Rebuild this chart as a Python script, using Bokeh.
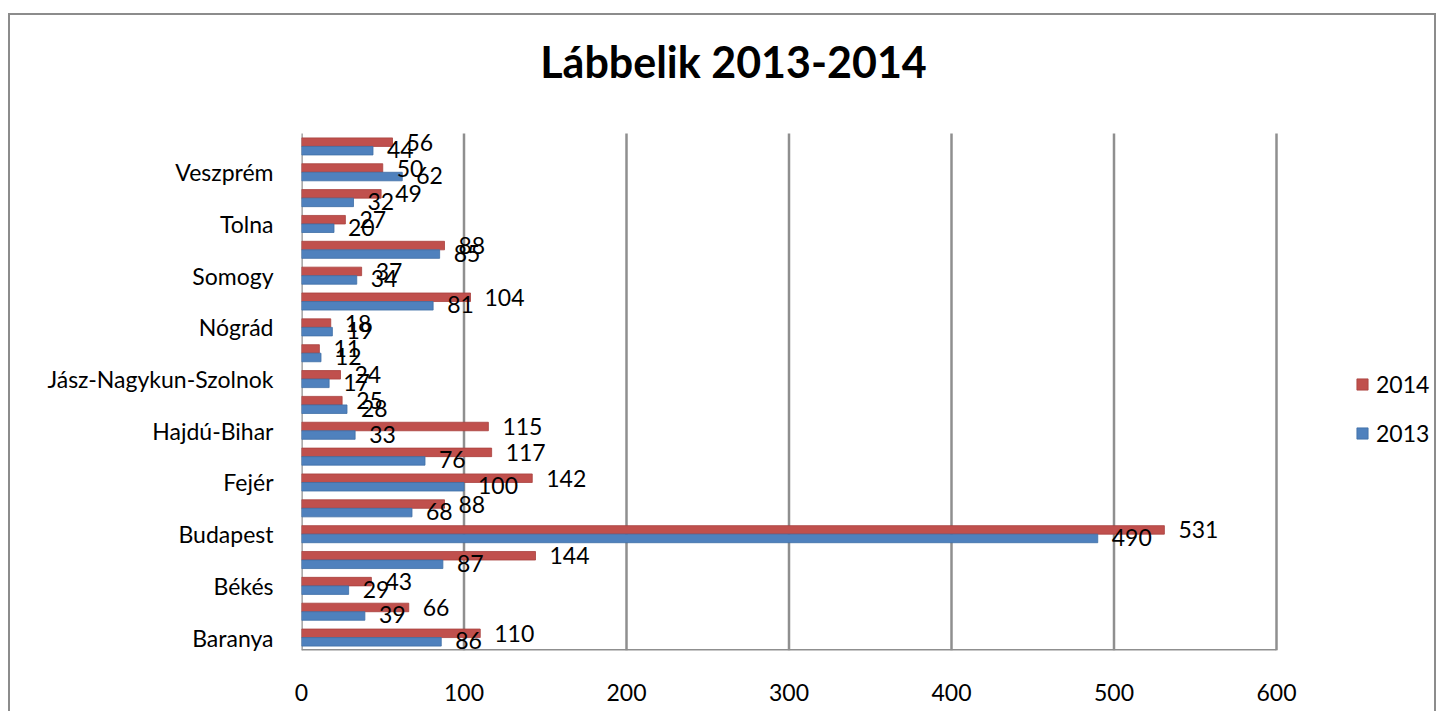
from bokeh.plotting import figure
from bokeh.models import ColumnDataSource, FixedTicker, Legend, LegendItem, Spacer, Label
from bokeh.layouts import column, row
from bokeh.core.properties import value
from bokeh.embed import file_html
from bokeh.resources import INLINE

categories = ["Baranya", "Bács-Kiskun", "Békés", "Borsod-Abaúj-Zemplén", "Budapest",
              "Csongrád", "Fejér", "Győr-Moson-Sopron", "Hajdú-Bihar", "Heves",
              "Jász-Nagykun-Szolnok", "Komárom-Esztergom", "Nógrád", "Pest", "Somogy",
              "Szabolcs-Szatmár-Bereg", "Tolna", "Vas", "Veszprém", "Zala"]
values_2014 = [110, 66, 43, 144, 531, 88, 142, 117, 115, 25, 24, 11, 18, 104, 37, 88, 27, 49, 50, 56]
values_2013 = [86, 39, 29, 87, 490, 68, 100, 76, 33, 28, 17, 12, 19, 81, 34, 85, 20, 32, 62, 44]
x_ticks = [0, 100, 200, 300, 400, 500, 600]
title_text = "Lábbelik 2013-2014"

FONT = "Lato"
RED = "#C0504D"
BLUE = "#4F81BD"
GRID = "#8f8f8f"
FS = "23px"

n = len(categories)
idx = list(range(n))
bw = 0.33
src = ColumnDataSource(dict(
    idx=idx,
    y14=[i + bw / 2 for i in idx],
    y13=[i - bw / 2 for i in idx],
    v14=values_2014,
    v13=values_2013,
    t14=[str(v) for v in values_2014],
    t13=[str(v) for v in values_2013],
))

W, H = 1428, 698
FRAME_L, FRAME_R = 291, W - 2
FRAME_T, FRAME_B = 0, 635
PLOT_TOP = 118                      # top of the visible plot area (px from figure top)
px_x = 975 / 600.0
px_y = (FRAME_B - PLOT_TOP) / n
x_max = (FRAME_R - FRAME_L) / px_x
y_min = -0.5
y_max = y_min + (FRAME_B - FRAME_T) / px_y

p = figure(width=W, height=H, output_backend="svg", toolbar_location=None,
           x_range=(0, x_max), y_range=(y_min, y_max),
           min_border_left=FRAME_L, min_border_right=W - FRAME_R,
           min_border_top=FRAME_T, min_border_bottom=H - FRAME_B,
           outline_line_color=None, background_fill_color="white",
           border_fill_color="white",
           styles={"border-top": "2px solid #8c8c8c", "border-left": "2px solid #8c8c8c",
                   "border-right": "2px solid #8c8c8c"})

lo, hi = -0.5, n - 0.5
# vertical grid lines and left wall
p.segment(x0=x_ticks, y0=[lo] * len(x_ticks), x1=x_ticks, y1=[hi] * len(x_ticks),
          line_color=GRID, line_width=2.5)
# floor line
p.segment(x0=[x_ticks[0]], y0=[lo], x1=[x_ticks[-1]], y1=[lo],
          line_color=GRID, line_width=3)

r14 = p.hbar(y="y14", left=0, right="v14", height=bw, source=src,
             fill_color=RED, line_color="#a8403d", line_width=0.8)
r13 = p.hbar(y="y13", left=0, right="v13", height=bw, source=src,
             fill_color=BLUE, line_color="#3f6fa6", line_width=0.8)

p.text(x="v14", y="y14", text="t14", source=src, x_offset=14,
       text_font=value(FONT), text_font_size=FS, text_baseline="middle",
       text_align="left", text_color="black")
p.text(x="v13", y="y13", text="t13", source=src, x_offset=14, y_offset=-1,
       text_font=value(FONT), text_font_size=FS, text_baseline="middle",
       text_align="left", text_color="black")

title = Label(x=432, y=589, x_units="screen", y_units="screen", text=title_text,
              text_font=FONT, text_font_style="bold", text_font_size="43px",
              text_color="black", text_align="center", text_baseline="middle")
p.add_layout(title)

# axes
p.xaxis.ticker = FixedTicker(ticks=x_ticks)
p.xaxis.axis_line_color = None
p.xaxis.major_tick_line_color = None
p.xaxis.minor_tick_line_color = None
p.xaxis.major_label_text_font = FONT
p.xaxis.major_label_text_font_size = FS
p.xaxis.major_label_text_color = "black"
p.xaxis.major_label_standoff = 27

p.yaxis.ticker = FixedTicker(ticks=idx[::2])
p.yaxis.major_label_overrides = {i: categories[i] for i in idx[::2]}
p.yaxis.axis_line_color = None
p.yaxis.major_tick_line_color = None
p.yaxis.minor_tick_line_color = None
p.yaxis.major_label_text_font = FONT
p.yaxis.major_label_text_font_size = FS
p.yaxis.major_label_text_color = "black"
p.yaxis.major_label_standoff = 22

p.xgrid.grid_line_color = None
p.ygrid.grid_line_color = None

legend = Legend(items=[LegendItem(label="2014", renderers=[r14]),
                       LegendItem(label="2013", renderers=[r13])],
                location=(1054, 203), orientation="vertical",
                glyph_width=14, glyph_height=14, label_height=20,
                label_standoff=7, spacing=21, padding=0, margin=0,
                border_line_color=None, background_fill_alpha=0,
                label_text_font=FONT, label_text_font_size=FS,
                label_text_color="black")
p.add_layout(legend, "center")

layout = row(Spacer(width=8), column(Spacer(height=13), p))
open("out.html", "w").write(file_html(layout, INLINE))
